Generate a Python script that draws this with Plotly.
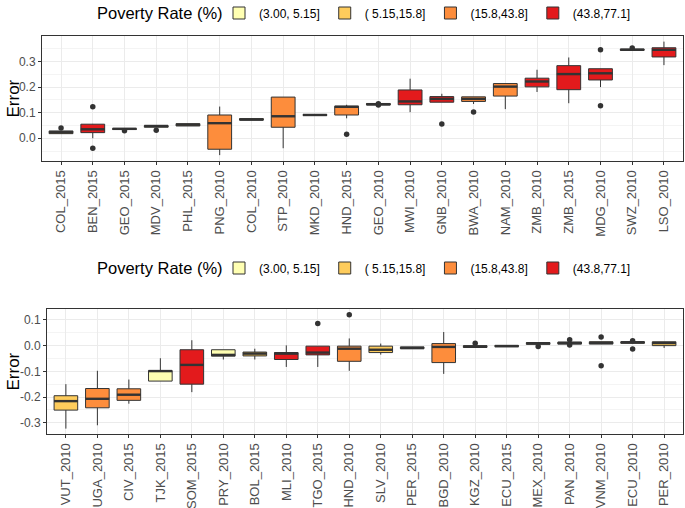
import plotly.graph_objects as go

# ---------------- data ----------------
group_labels = ["(3.00, 5.15]", "( 5.15,15.8]", "(15.8,43.8]", "(43.8,77.1]"]
group_colors = ["#FFFFB2", "#FECC5C", "#FD8D3C", "#E31A1C"]

top_cats = ["COL_2015", "BEN_2015", "GEO_2015", "MDV_2010", "PHL_2015", "PNG_2010", "COL_2010",
            "STP_2010", "MKD_2010", "HND_2015", "GEO_2010", "MWI_2010", "GNB_2010", "BWA_2010",
            "NAM_2010", "ZMB_2010", "ZMB_2015", "MDG_2010", "SWZ_2010", "LSO_2010"]
top_grp = [1, 3, 1, 0, 1, 2, 1, 2, 0, 2, 1, 3, 3, 2, 2, 3, 3, 3, 3, 3]
top_q1 = [0.018, 0.022, 0.034, 0.043, 0.048, -0.043, 0.071, 0.043, 0.089, 0.091,
          0.130, 0.131, 0.141, 0.144, 0.165, 0.201, 0.190, 0.228, 0.344, 0.318]
top_med = [0.0235, 0.035, 0.037, 0.048, 0.053, 0.059, 0.073, 0.086, 0.091, 0.123,
           0.133, 0.144, 0.154, 0.154, 0.202, 0.222, 0.251, 0.254, 0.346, 0.346]
top_q3 = [0.0286, 0.055, 0.038, 0.0495, 0.057, 0.091, 0.077, 0.161, 0.093, 0.1255,
          0.136, 0.189, 0.163, 0.162, 0.214, 0.235, 0.284, 0.272, 0.349, 0.354]
top_lo = [0.018, 0.0, 0.034, 0.043, 0.048, -0.066, 0.071, -0.039, 0.089, 0.078,
          0.130, 0.102, 0.141, 0.134, 0.114, 0.181, 0.137, 0.200, 0.344, 0.286]
top_hi = [0.0286, 0.056, 0.038, 0.0495, 0.057, 0.124, 0.077, 0.161, 0.093, 0.131,
          0.136, 0.233, 0.174, 0.162, 0.214, 0.268, 0.316, 0.272, 0.349, 0.378]
top_out_cat = ["COL_2015", "BEN_2015", "BEN_2015", "GEO_2015", "MDV_2010", "HND_2015",
               "GEO_2010", "GEO_2010", "GNB_2010", "BWA_2010", "MDG_2010", "MDG_2010", "SWZ_2010"]
top_out_val = [0.040, 0.123, -0.039, 0.029, 0.031, 0.016,
               0.135, 0.130, 0.056, 0.103, 0.346, 0.127, 0.353]
top_yticks = [0.0, 0.1, 0.2, 0.3]
top_yticklabels = ["0.0", "0.1", "0.2", "0.3"]

bot_cats = ["VUT_2010", "UGA_2010", "CIV_2015", "TJK_2015", "SOM_2015", "PRY_2010", "BOL_2015",
            "MLI_2010", "TGO_2015", "HND_2010", "SLV_2010", "PER_2015", "BGD_2010", "KGZ_2010",
            "ECU_2015", "MEX_2010", "PAN_2010", "VNM_2010", "ECU_2010", "PER_2010"]
bot_grp = [1, 2, 2, 0, 3, 0, 1, 3, 3, 2, 1, 1, 2, 0, 0, 0, 1, 1, 1, 1]
bot_q1 = [-0.251, -0.242, -0.213, -0.138, -0.150, -0.041, -0.040, -0.054, -0.036, -0.061,
          -0.027, -0.012, -0.066, -0.007, -0.004, 0.005, 0.006, 0.006, 0.009, 0.000]
bot_med = [-0.216, -0.207, -0.191, -0.099, -0.075, -0.036, -0.031, -0.031, -0.027, -0.012,
           -0.016, -0.009, -0.005, -0.004, -0.002, 0.009, 0.010, 0.011, 0.013, 0.010]
bot_q3 = [-0.195, -0.167, -0.168, -0.097, -0.016, -0.016, -0.025, -0.027, -0.002, -0.002,
          -0.002, -0.005, 0.008, 0.000, 0.001, 0.012, 0.014, 0.015, 0.015, 0.015]
bot_lo = [-0.323, -0.310, -0.226, -0.138, -0.181, -0.054, -0.054, -0.083, -0.083, -0.098,
          -0.035, -0.012, -0.110, -0.007, -0.004, 0.005, 0.006, 0.006, 0.009, -0.009]
bot_hi = [-0.150, -0.098, -0.132, -0.049, 0.021, -0.016, -0.012, 0.001, -0.002, 0.028,
          0.008, -0.005, 0.053, 0.000, 0.001, 0.012, 0.014, 0.015, 0.015, 0.015]
bot_out_cat = ["TGO_2015", "HND_2010", "KGZ_2010", "MEX_2010", "PAN_2010", "PAN_2010",
               "VNM_2010", "VNM_2010", "ECU_2010", "ECU_2010"]
bot_out_val = [0.086, 0.120, 0.009, -0.003, 0.023, 0.002, 0.034, -0.078, 0.019, -0.013]
bot_yticks = [-0.3, -0.2, -0.1, 0.0, 0.1]
bot_yticklabels = ["-0.3", "-0.2", "-0.1", "0.0", "0.1"]

legend_title = "Poverty Rate (%)"
y_title = "Error"

# ---------------- figure ----------------
FONT = "Liberation Sans, Arial, sans-serif"
EDGE = "#333333"
BOXW = 0.75
W, H = 685, 508

fig = go.Figure()


def add_panel(cats, grp, q1, med, q3, lo, hi, out_cat, out_val, xa, ya, leg):
    shown = set()
    for i, c in enumerate(cats):
        g = grp[i]
        fig.add_trace(go.Box(
            x=[i], q1=[q1[i]], median=[med[i]], q3=[q3[i]],
            lowerfence=[lo[i]], upperfence=[hi[i]],
            width=BOXW, fillcolor=group_colors[g],
            line=dict(color=EDGE, width=1), boxpoints=False,
            name=group_labels[g], legendgroup=leg + str(g),
            showlegend=(g not in shown), legendrank=g + 1,
            legend=leg, xaxis=xa, yaxis=ya, whiskerwidth=0))
        shown.add(g)
    mx, my = [], []
    for i in range(len(cats)):
        mx += [i - BOXW / 2, i + BOXW / 2, None]
        my += [med[i], med[i], None]
    fig.add_trace(go.Scatter(x=mx, y=my, mode="lines", line=dict(color=EDGE, width=2.4),
                             showlegend=False, hoverinfo="skip", xaxis=xa, yaxis=ya))
    ox = [cats.index(c) for c in out_cat]
    fig.add_trace(go.Scatter(x=ox, y=out_val, mode="markers",
                             marker=dict(color=EDGE, size=5.5),
                             showlegend=False, xaxis=xa, yaxis=ya))


add_panel(top_cats, top_grp, top_q1, top_med, top_q3, top_lo, top_hi,
          top_out_cat, top_out_val, "x", "y", "legend")
add_panel(bot_cats, bot_grp, bot_q1, bot_med, bot_q3, bot_lo, bot_hi,
          bot_out_cat, bot_out_val, "x2", "y2", "legend2")


def xaxis_cfg(cats, left, anchor):
    return dict(domain=[left / W, 683 / W], range=[-0.6, len(cats) - 0.4], anchor=anchor,
                tickmode="array", tickvals=list(range(len(cats))), ticktext=cats,
                tickangle=-90, tickfont=dict(size=13, color="#4D4D4D", family=FONT),
                showgrid=True, gridcolor="#EBEBEB", gridwidth=1,
                showline=True, mirror=True, linecolor=EDGE, linewidth=1,
                ticks="outside", ticklen=3, tickcolor=EDGE, zeroline=False)


def yaxis_cfg(top, bottom, rng, tv, tt, anchor):
    return dict(domain=[1 - bottom / H, 1 - top / H], range=rng, anchor=anchor,
                tickmode="array", tickvals=tv, ticktext=tt,
                tickfont=dict(size=12, color="#4D4D4D", family=FONT),
                showgrid=True, gridcolor="#EBEBEB", gridwidth=1,
                minor=dict(tickmode="linear", tick0=0.05, dtick=0.1, showgrid=True,
                           gridcolor="#F4F4F4", gridwidth=0.6, ticklen=0),
                showline=True, mirror=True, linecolor=EDGE, linewidth=1,
                ticks="outside", ticklen=3, tickcolor=EDGE, zeroline=False)


def legend_cfg(ypx):
    return dict(orientation="h", x=219 / W, xanchor="left", y=1 - ypx / H, yanchor="middle",
                font=dict(size=12, color="black", family=FONT), bgcolor="rgba(0,0,0,0)",
                traceorder="normal", itemwidth=30)


annotations = []
for ypx in (13, 268):
    annotations.append(dict(text=legend_title, xref="paper", yref="paper", x=95 / W,
                            xanchor="left", y=1 - ypx / H, yanchor="middle", showarrow=False,
                            font=dict(size=16.5, color="black", family=FONT)))
for (t, b) in ((36, 161), (309, 434)):
    annotations.append(dict(text=y_title, xref="paper", yref="paper", x=13 / W,
                            xanchor="center", y=1 - (t + b) / 2 / H, yanchor="middle",
                            textangle=-90, showarrow=False,
                            font=dict(size=17, color="black", family=FONT)))

fig.update_layout(
    width=W, height=H, margin=dict(l=0, r=0, t=0, b=0, autoexpand=False),
    paper_bgcolor="white", plot_bgcolor="white",
    font=dict(family=FONT),
    boxmode="overlay",
    xaxis=xaxis_cfg(top_cats, 42, "y"),
    yaxis=yaxis_cfg(36, 161, [-0.089, 0.40], top_yticks, top_yticklabels, "x"),
    xaxis2=xaxis_cfg(bot_cats, 47, "y2"),
    yaxis2=yaxis_cfg(309, 434, [-0.344, 0.1426], bot_yticks, bot_yticklabels, "x2"),
    legend=legend_cfg(13),
    legend2=legend_cfg(268),
    annotations=annotations,
)

fig.write_html("out.html", config={"displayModeBar": False},
               post_script="document.body.style.margin='0';document.body.style.overflow='hidden';")
